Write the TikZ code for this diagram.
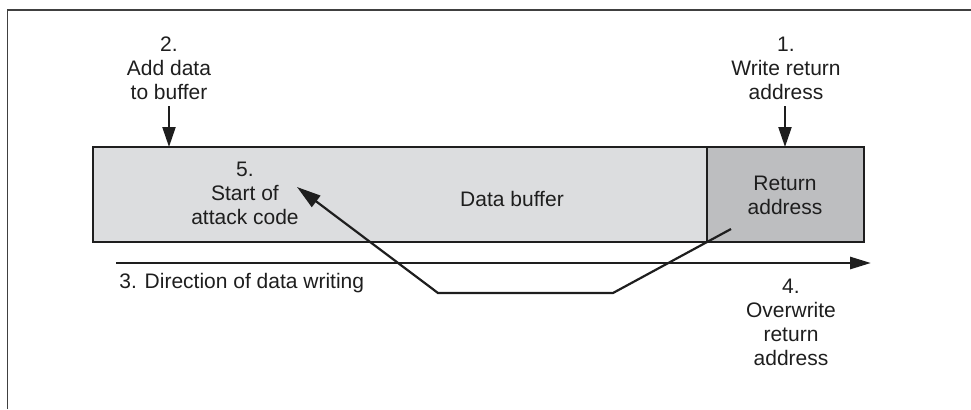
\documentclass[tikz,border=0pt]{standalone}
\usepackage{fontspec}
\setmainfont{Liberation Sans}
\usetikzlibrary{arrows.meta}
\definecolor{buflight}{RGB}{220,221,223}
\definecolor{retdark}{RGB}{189,190,192}
\definecolor{inkc}{RGB}{30,30,30}
\tikzset{
  lbl/.style={align=center, inner sep=0pt, text=inkc, font=\fontsize{10.5}{12}\selectfont},
  cell/.style={draw=inkc, line width=1pt, inner sep=0pt, outer sep=0pt, anchor=north west},
  downarrow/.style={draw=inkc, line width=1.1pt, -{Triangle[length=10pt,width=6.5pt]}},
  dirarrow/.style={draw=inkc, line width=1.4pt, -{Triangle[length=10.5pt,width=6pt]}},
  jumparrow/.style={draw=inkc, line width=1.1pt, line join=miter, -{Triangle[length=12pt,width=7pt]}},
  frameline/.style={draw=inkc!85, line width=0.8pt}
}
\begin{document}
\begin{tikzpicture}[x=0.5pt,y=-0.5pt]
\useasboundingbox (0,0) rectangle (971,409);
% frame
\coordinate (fbl) at (7.5,409);
\coordinate (ftl) at (7.5,10);
\coordinate (ftr) at (971,10);
\draw[frameline] (fbl) -- (ftl) -- (ftr);
% cells
\node[cell, fill=buflight, minimum width=307pt, minimum height=47.5pt] (buf) at (93,147) {};
\node[cell, fill=retdark, minimum width=78.5pt, minimum height=47.5pt] (ret) at (707,147) {};
% texts
\node[lbl] (lab2) at (169,68) {2.\\Add data\\to buffer};
\node[lbl] (lab1) at (786,68) {1.\\Write return\\address};
\node[lbl] (labret) at (785,195) {Return\\address};
\node[lbl] (labbuf) at (512,199) {Data buffer};
\node[lbl] (lab5) at (245,193) {5.\\Start of\\attack code};
\node[lbl, anchor=west] (lab3) at (119,283) {3. Direction of data writing};
\node[lbl] (lab4) at (791,322) {4.\\Overwrite\\return\\address};
% top arrows
\coordinate (a2s) at (169,106);
\coordinate (a1s) at (785,106);
\draw[downarrow] (a2s) -- (a2s |- buf.north);
\draw[downarrow] (a1s) -- (a1s |- ret.north);
% direction arrow
\coordinate (d0) at (116,263);
\coordinate (d1) at (871,263);
\draw[dirarrow] (d0) -- (d1);
% jump arrow
\coordinate (j0) at (731,229);
\coordinate (j1) at (613,293);
\coordinate (j2) at (438,293);
\coordinate (j3) at (297,187);
\draw[jumparrow] (j0) -- (j1) -- (j2) -- (j3);
\end{tikzpicture}
\end{document}
